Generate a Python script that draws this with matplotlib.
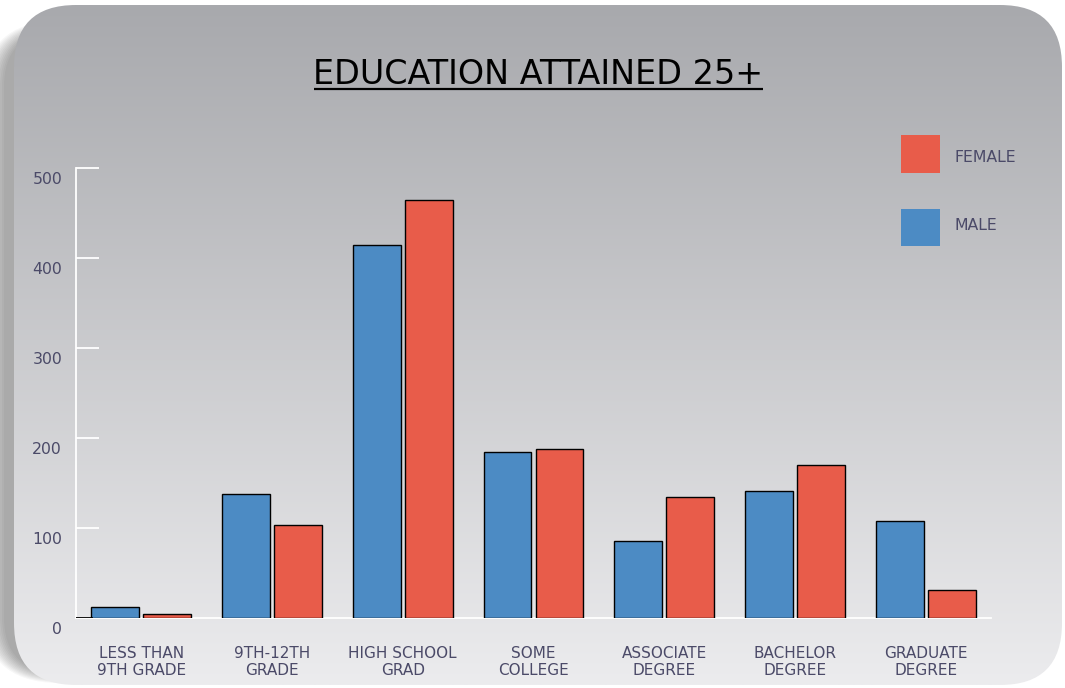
import matplotlib

matplotlib.use("Agg")
import matplotlib.pyplot as plt
import numpy as np
from matplotlib.patches import FancyBboxPatch, Rectangle

categories = [
    "LESS THAN\n9TH GRADE",
    "9TH-12TH\nGRADE",
    "HIGH SCHOOL\nGRAD",
    "SOME\nCOLLEGE",
    "ASSOCIATE\nDEGREE",
    "BACHELOR\nDEGREE",
    "GRADUATE\nDEGREE",
]
male = [12, 138, 415, 184, 86, 141, 108]
female = [4, 103, 464, 188, 134, 170, 31]
y_ticks = [0, 100, 200, 300, 400, 500]

BLUE = "#4c8bc4"
RED = "#e85c4a"
TEXT = "#4b4a68"
FONT = "DejaVu Sans"

W, H = 1065, 688
fig = plt.figure(figsize=(W / 100, H / 100), dpi=100)
fig.patch.set_facecolor("white")

# card background in pixel coordinates
bg = fig.add_axes([0, 0, 1, 1])
bg.set_xlim(0, W)
bg.set_ylim(H, 0)
bg.axis("off")

# soft drop shadow to the left: stacked translucent rounded boxes
for k in range(12):
    grow = k * 2.0
    shadow = FancyBboxPatch(
        (4 - grow, 32 - grow * 0.5),
        1030 + grow,
        640 + grow,
        boxstyle=f"round,pad=0,rounding_size={55 + grow}",
        facecolor="black", edgecolor="none", alpha=0.03, zorder=0,
    )
    bg.add_patch(shadow)

card = FancyBboxPatch(
    (14, 5), 1048, 680,
    boxstyle="round,pad=0,rounding_size=62",
    facecolor="none", edgecolor="none",
)
bg.add_patch(card)
top = np.array([168, 169, 173]) / 255
bottom = np.array([236, 236, 238]) / 255
t = np.linspace(0, 1, 256)[:, None, None]
grad = top * (1 - t) + bottom * t
grad = np.repeat(grad, 2, axis=1)
img = bg.imshow(grad, extent=(14, 1062, 685, 5), aspect="auto",
                interpolation="bilinear", zorder=1)
img.set_clip_path(card)

# title with underline
bg.text(538, 74, "EDUCATION ATTAINED 25+", ha="center", va="center",
        fontsize=24, color="black", family=FONT, zorder=3)
bg.plot([314, 763], [89, 89], color="black", lw=1.6, solid_capstyle="butt", zorder=3)

# legend squares
bg.add_patch(Rectangle((901, 135), 39, 38, facecolor=RED, edgecolor="none", zorder=3))
bg.add_patch(Rectangle((901, 209), 39, 37, facecolor=BLUE, edgecolor="none", zorder=3))
bg.text(954, 157, "FEMALE", ha="left", va="center", fontsize=11.3, color=TEXT,
        family=FONT, zorder=3)
bg.text(954, 226, "MALE", ha="left", va="center", fontsize=11.3, color=TEXT,
        family=FONT, zorder=3)

# main chart
left, right, base, ytop = 76, 991, 618, 168
ax = fig.add_axes([left / W, (H - base) / H, (right - left) / W, (base - ytop) / H])
ax.patch.set_alpha(0)
x = np.arange(len(categories))
bw = 0.367
off = 0.199
ax.bar(x - off, male, width=bw, color=BLUE, edgecolor="black", linewidth=1, zorder=3)
ax.bar(x + off, female, width=bw, color=RED, edgecolor="black", linewidth=1, zorder=3)
ax.set_xlim(-0.5, len(categories) - 0.5)
ax.set_ylim(0, 500)

for side in ("top", "right"):
    ax.spines[side].set_visible(False)
for side in ("left", "bottom"):
    ax.spines[side].set_color("white")
    ax.spines[side].set_linewidth(1.3)
ax.axhline(0, xmin=0, xmax=0.018, color="black", lw=1.3, zorder=4)

ax.set_yticks(y_ticks)
ax.tick_params(axis="y", direction="in", length=16.5, width=1.3, color="white",
               labelleft=False)
ax.set_xticks(x)
ax.set_xticklabels(categories, fontsize=11, color=TEXT, family=FONT, linespacing=1.15)
ax.tick_params(axis="x", length=0, pad=20)

# y labels sit a little below their tick marks
for v in y_ticks:
    fig.text(62 / W, (H - (base - v * (base - ytop) / 500) - 11) / H, str(v),
             ha="right", va="center", fontsize=11.3, color=TEXT, family=FONT)

fig.savefig("out.png", dpi=100)
